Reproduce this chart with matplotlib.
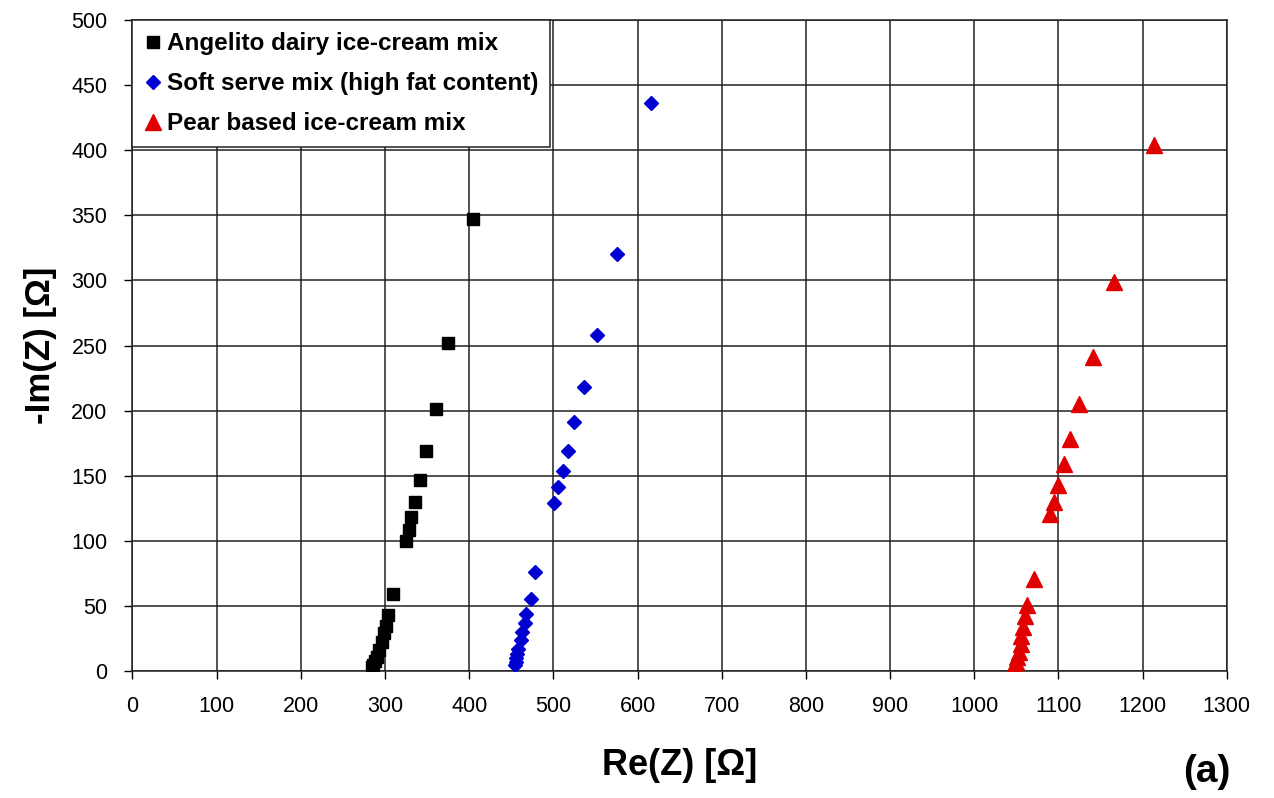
import matplotlib
matplotlib.use("Agg")
import matplotlib.pyplot as plt
from matplotlib.ticker import MultipleLocator

# ---------------------------------------------------------------------------
# Data: Re(Z) and -Im(Z), ohms
# ---------------------------------------------------------------------------
angelito_re = [405, 375, 360, 349, 341, 336, 331, 328, 325, 310, 304,
               301, 299, 296, 293, 290, 288, 286, 285]
angelito_im = [347, 252, 201, 169, 147, 130, 118, 108, 100, 59, 43,
               35, 29, 22, 16, 11, 8, 5, 3]

softserve_re = [616, 576, 552, 536, 525, 517, 511, 506, 501, 478, 473,
                468, 466, 463, 461, 458, 457, 456, 455, 454]
softserve_im = [436, 320, 258, 218, 191, 169, 154, 141, 129, 76, 55,
                44, 37, 30, 24, 17, 13, 10, 7, 5]

pear_re = [1213, 1166, 1141, 1124, 1114, 1106, 1100, 1095, 1090, 1071, 1063,
           1060, 1058, 1056, 1055, 1053, 1051, 1049, 1047, 1046]
pear_im = [404, 299, 241, 205, 178, 159, 143, 130, 121, 71, 51,
           42, 34, 27, 21, 15, 11, 7, 4, 2]

labels = ["Angelito dairy ice-cream mix",
          "Soft serve mix (high fat content)",
          "Pear based ice-cream mix"]

# ---------------------------------------------------------------------------
# Plot
# ---------------------------------------------------------------------------
plt.rcParams.update({
    "font.family": ["Liberation Sans", "DejaVu Sans"],
    "font.size": 14,
})

fig = plt.figure(figsize=(12.74, 7.98), dpi=100)
ax = fig.add_axes([0.104, 0.159, 0.859, 0.816])

ax.plot(angelito_re, angelito_im, ls="none", marker="s", ms=9,
        color="black", label=labels[0], zorder=3)
ax.plot(softserve_re, softserve_im, ls="none", marker="D", ms=7.5,
        color="#0000d0", label=labels[1], zorder=3)
ax.plot(pear_re, pear_im, ls="none", marker="^", ms=11,
        color="#e00000", label=labels[2], zorder=3)

ax.set_xlim(0, 1300)
ax.set_ylim(0, 500)
ax.xaxis.set_major_locator(MultipleLocator(100))
ax.yaxis.set_major_locator(MultipleLocator(50))
ax.grid(True, color="#222222", lw=1.1)
ax.set_axisbelow(True)
for sp in ax.spines.values():
    sp.set_color("#222222")
    sp.set_linewidth(1.1)
ax.tick_params(direction="out", length=6, width=1.0, labelsize=15.5, pad=12)

ax.set_xlabel("Re(Z) [Ω]", fontsize=26, fontweight="bold", labelpad=22)
ax.set_ylabel("-Im(Z) [Ω]", fontsize=25, fontweight="bold", labelpad=10)

leg = ax.legend(loc="upper left", borderaxespad=0, frameon=True, fancybox=False,
                edgecolor="#222222", framealpha=1.0, handletextpad=0.2,
                handlelength=0.7, labelspacing=0.7, borderpad=0.5,
                prop={"weight": "bold", "size": 17.5})
leg.get_frame().set_linewidth(1.1)

fig.text(0.947, 0.032, "(a)", fontsize=28, fontweight="bold",
         ha="center", va="center")

fig.savefig("out.png", dpi=100)
